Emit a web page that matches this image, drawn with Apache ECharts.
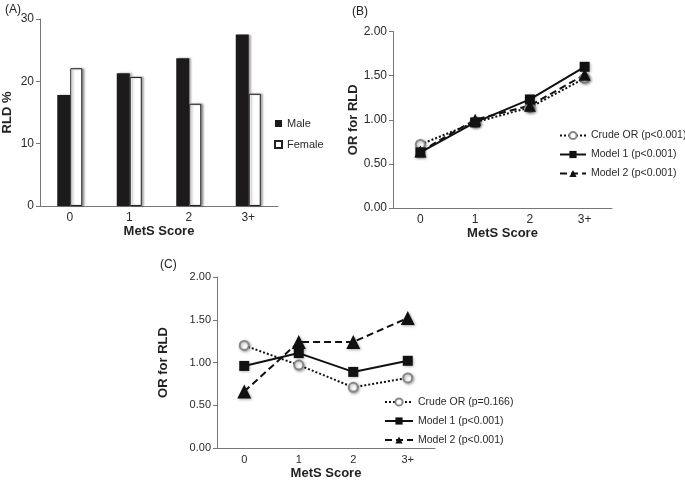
<!DOCTYPE html>
<html>
<head>
<meta charset="utf-8">
<script src="https://cdn.jsdelivr.net/npm/echarts@6/dist/echarts.min.js"></script>
<style>html,body{margin:0;padding:0;background:#fff;}#c{width:685px;height:481px;}</style>
</head>
<body>
<div id="c"></div>
<script>
// ---- data ----
var categories = ['0', '1', '2', '3+'];
var maleRLD = [17.8, 21.3, 23.7, 27.5];
var femaleRLD = [22.1, 20.7, 16.4, 18.0];
var crudeB = [0.72, 0.97, 1.14, 1.47];
var model1B = [0.63, 0.97, 1.23, 1.60];
var model2B = [0.64, 1.00, 1.16, 1.51];
var crudeC = [1.20, 0.97, 0.71, 0.82];
var model1C = [0.96, 1.11, 0.89, 1.02];
var model2C = [0.66, 1.24, 1.24, 1.52];
var panelLabels = ['(A)', '(B)', '(C)'];
var namesB = ['Crude OR (p<0.001)', 'Model 1 (p<0.001)', 'Model 2 (p<0.001)'];
var namesC = ['Crude OR (p=0.166)', 'Model 1 (p<0.001)', 'Model 2 (p<0.001)'];

var FONT = 'Liberation Sans, Arial, sans-serif';
var AX = '#777';
var TXT = '#2a2a2a';

function xAxisCfg(gi, fs) {
  return {
    type: 'category', gridIndex: gi, data: categories,
    name: 'MetS Score', nameLocation: 'middle', nameGap: 19,
    nameTextStyle: {fontFamily: FONT, fontSize: 13, fontWeight: 'bold', color: '#222'},
    axisLine: {lineStyle: {color: AX, width: 1}},
    axisTick: {show: false},
    axisLabel: {fontFamily: FONT, fontSize: fs, color: TXT, margin: 6}
  };
}
function yAxisCfg(gi, name, max, interval, gap, fs, dec) {
  return {
    type: 'value', gridIndex: gi, min: 0, max: max, interval: interval,
    name: name, nameLocation: 'middle', nameGap: gap, nameRotate: 90,
    nameTextStyle: {fontFamily: FONT, fontSize: 13, fontWeight: 'bold', color: '#222'},
    axisLine: {show: true, lineStyle: {color: AX, width: 1}},
    axisTick: {show: true, length: 4, lineStyle: {color: AX}},
    splitLine: {show: false},
    axisLabel: {fontFamily: FONT, fontSize: fs, color: TXT, margin: 6,
      formatter: function (v) { return dec ? v.toFixed(2) : String(v); }}
  };
}
var shadow = {shadowBlur: 3, shadowColor: 'rgba(0,0,0,0.35)', shadowOffsetX: 1, shadowOffsetY: 1};

function lineSeries(name, data, gi, kind, big) {
  var s = {
    name: name, type: 'line', xAxisIndex: gi, yAxisIndex: gi, data: data,
    animation: false, z: 3
  };
  if (kind === 'crude') {
    s.symbol = 'emptyCircle'; s.symbolSize = 9;
    s.lineStyle = {color: '#111', width: 2, type: 'dotted'};
    s.itemStyle = Object.assign({color: '#888', borderWidth: 1.5}, shadow);
  } else if (kind === 'm1') {
    s.symbol = 'rect'; s.symbolSize = 10;
    s.lineStyle = {color: '#111', width: 2, type: 'solid'};
    s.itemStyle = Object.assign({color: '#111'}, shadow);
    s.z = 4;
  } else {
    s.symbol = 'triangle'; s.symbolSize = big ? 14 : 12;
    s.lineStyle = {color: '#111', width: 2, type: [7, 4]};
    s.itemStyle = Object.assign({color: '#111'}, shadow);
  }
  return s;
}

var chart = echarts.init(document.getElementById('c'), null, {renderer: 'canvas'});
chart.setOption({
  backgroundColor: '#fff',
  animation: false,
  title: [
    {text: panelLabels[0], left: 0, top: -1, textStyle: {fontFamily: FONT, fontSize: 12, fontWeight: 'normal', color: '#222'}},
    {text: panelLabels[1], left: 347, top: 1, textStyle: {fontFamily: FONT, fontSize: 12, fontWeight: 'normal', color: '#222'}},
    {text: panelLabels[2], left: 155, top: 254, textStyle: {fontFamily: FONT, fontSize: 12, fontWeight: 'normal', color: '#222'}}
  ],
  grid: [
    {left: 40, right: 407, top: 19, bottom: 275},
    {left: 393, right: 73, top: 31.5, bottom: 273},
    {left: 217, right: 250, top: 277, bottom: 30}
  ],
  xAxis: [xAxisCfg(0, 12), xAxisCfg(1, 12), xAxisCfg(2, 11)],
  yAxis: [
    yAxisCfg(0, 'RLD %', 30, 10, 26, 12, false),
    yAxisCfg(1, 'OR for RLD', 2, 0.5, 31, 12, true),
    yAxisCfg(2, 'OR for RLD', 2, 0.5, 47, 11, true)
  ],
  legend: [
    {
      data: [{name: 'Male', icon: 'rect'}, {name: 'Female', icon: 'rect'}],
      orient: 'vertical', left: 274, top: 118,
      itemWidth: 7, itemHeight: 7, itemGap: 10, padding: 0,
      textStyle: {fontFamily: FONT, fontSize: 11, color: TXT}
    },
    {
      data: namesB, orient: 'vertical', left: 559, top: 130,
      itemWidth: 26, itemHeight: 9, itemGap: 8, padding: 0,
      textStyle: {fontFamily: FONT, fontSize: 10.5, color: TXT}
    },
    {
      data: namesC, orient: 'vertical', left: 384, top: 396.5,
      itemWidth: 28, itemHeight: 9, itemGap: 8, padding: 0,
      textStyle: {fontFamily: FONT, fontSize: 10.5, color: TXT}
    }
  ],
  series: [
    {
      name: 'Male', type: 'bar', xAxisIndex: 0, yAxisIndex: 0, data: maleRLD,
      barWidth: 13, barGap: '0%',
      itemStyle: {color: '#1c1a1a', shadowBlur: 2, shadowColor: 'rgba(0,0,0,0.35)', shadowOffsetX: 2, shadowOffsetY: 0}
    },
    {
      name: 'Female', type: 'bar', xAxisIndex: 0, yAxisIndex: 0, data: femaleRLD,
      barWidth: 12, barGap: '0%',
      itemStyle: {color: '#fff', borderColor: '#222', borderWidth: 1, shadowBlur: 2, shadowColor: 'rgba(0,0,0,0.35)', shadowOffsetX: 2, shadowOffsetY: 0}
    },
    lineSeries(namesB[0], crudeB, 1, 'crude', false),
    lineSeries(namesB[1], model1B, 1, 'm1', false),
    lineSeries(namesB[2], model2B, 1, 'm2', false),
    lineSeries(namesC[0], crudeC, 2, 'crude', true),
    lineSeries(namesC[1], model1C, 2, 'm1', true),
    lineSeries(namesC[2], model2C, 2, 'm2', true)
  ]
});
</script>
</body>
</html>
